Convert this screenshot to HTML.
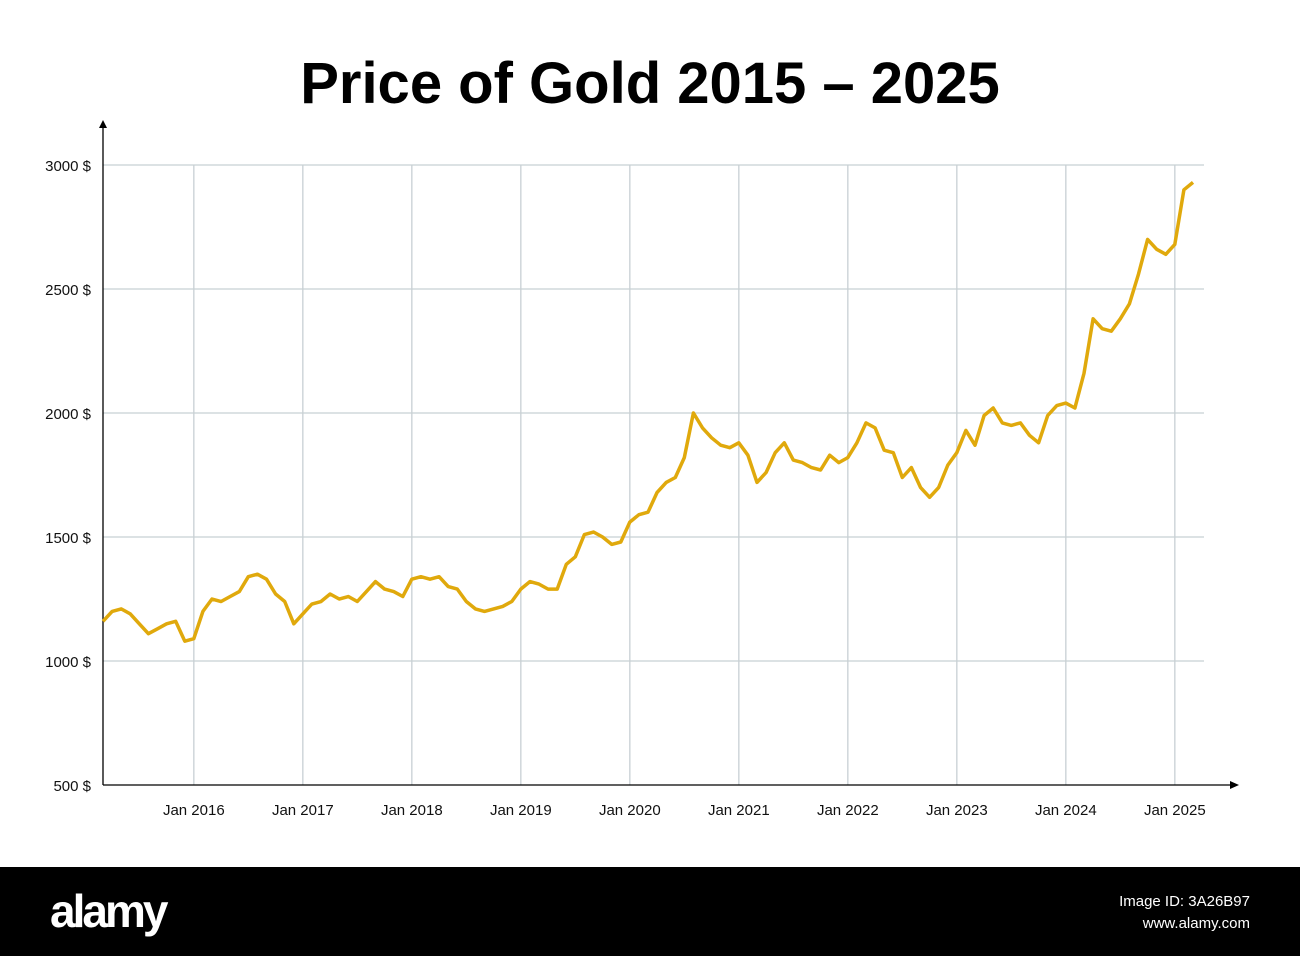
<!DOCTYPE html>
<html><head><meta charset="utf-8">
<style>
html,body{margin:0;padding:0;background:#fff;}
body{width:1300px;height:956px;overflow:hidden;font-family:"Liberation Sans",sans-serif;}
svg{display:block}
</style></head>
<body>
<svg id="chart" width="1300" height="956" viewBox="0 0 1300 956">
<text x="650" y="103" text-anchor="middle" font-size="58" font-weight="bold" fill="#000">Price of Gold 2015 – 2025</text>
<g id="grid"></g>
<g id="axes"></g>
<g id="series"></g>
<rect x="0" y="867" width="1300" height="89" fill="#000"/>
<text x="50" y="927" font-size="46" font-weight="bold" fill="#fff" letter-spacing="-3">alamy</text>
<text x="1250" y="906" text-anchor="end" font-size="15" fill="#fff">Image ID: 3A26B97</text>
<text x="1250" y="928" text-anchor="end" font-size="15" fill="#fff">www.alamy.com</text>
</svg>
<script>
const yTicks=[500,1000,1500,2000,2500,3000];
const xTickLabels=["Jan 2016","Jan 2017","Jan 2018","Jan 2019","Jan 2020","Jan 2021","Jan 2022","Jan 2023","Jan 2024","Jan 2025"];
const xTickMonths=[10,22,34,46,58,70,82,94,106,118];
// monthly prices starting Mar 2015
const prices=[1160,1200,1210,1190,1150,1110,1130,1150,1160,1080,
1090,1200,1250,1240,1260,1280,1340,1350,1330,1270,1240,1150,
1190,1230,1240,1270,1250,1260,1240,1280,1320,1290,1280,1260,
1330,1340,1330,1340,1300,1290,1240,1210,1200,1210,1220,1240,
1290,1320,1310,1290,1290,1390,1420,1510,1520,1500,1470,1480,
1560,1590,1600,1680,1720,1740,1820,2000,1940,1900,1870,1860,
1880,1830,1720,1760,1840,1880,1810,1800,1780,1770,1830,1800,
1820,1880,1960,1940,1850,1840,1740,1780,1700,1660,1700,1790,
1840,1930,1870,1990,2020,1960,1950,1960,1910,1880,1990,2030,
2040,2020,2160,2380,2340,2330,2380,2440,2560,2700,2660,2640,
2680,2900,2930];
const NS='http://www.w3.org/2000/svg';
const x0=103,pxPerMonth=109/12,yBase=785,pxPerUnit=124/500;
function xs(m){return x0+m*pxPerMonth;}
function ys(v){return yBase-(v-500)*pxPerUnit;}
function mk(tag,attrs,parent){const e=document.createElementNS(NS,tag);for(const k in attrs)e.setAttribute(k,attrs[k]);parent.appendChild(e);return e;}
const grid=document.getElementById('grid'),axes=document.getElementById('axes'),series=document.getElementById('series');
yTicks.forEach(v=>{
  if(v>500){const l=mk('line',{x1:x0,x2:1204,y1:ys(v),y2:ys(v),stroke:'#c8d0d4','stroke-width':1.3},grid);
  
  }
  const t=mk('text',{x:91,y:ys(v)+6,'text-anchor':'end','font-size':15,fill:'#111'},axes);
  t.textContent=v+' $';
  
  
});
xTickMonths.forEach((m,i)=>{
  const l=mk('line',{x1:xs(m),x2:xs(m),y1:ys(3000),y2:yBase,stroke:'#c8d0d4','stroke-width':1.3},grid);
  
  
  const t=mk('text',{x:xs(m),y:815,'text-anchor':'middle','font-size':15,fill:'#111'},axes);
  t.textContent=xTickLabels[i];
  
  
});
const ya=mk('line',{x1:x0,x2:x0,y1:124,y2:yBase,stroke:'#000','stroke-width':1.3},axes);


const yarr=mk('path',{d:'M99,128 L103,120 L107,128 Z',fill:'#000'},axes);


const xa=mk('line',{x1:x0,x2:1234,y1:yBase,y2:yBase,stroke:'#000','stroke-width':1.3},axes);


const xarr=mk('path',{d:'M1230,781 L1239,785 L1230,789 Z',fill:'#000'},axes);


const d=prices.map((v,i)=>(i?'L':'M')+xs(i).toFixed(1)+','+ys(v).toFixed(1)).join(' ');
const p=mk('path',{d:d,fill:'none',stroke:'#e0a90c','stroke-width':3.5,'stroke-linejoin':'round'},series);


</script>
</body></html>
